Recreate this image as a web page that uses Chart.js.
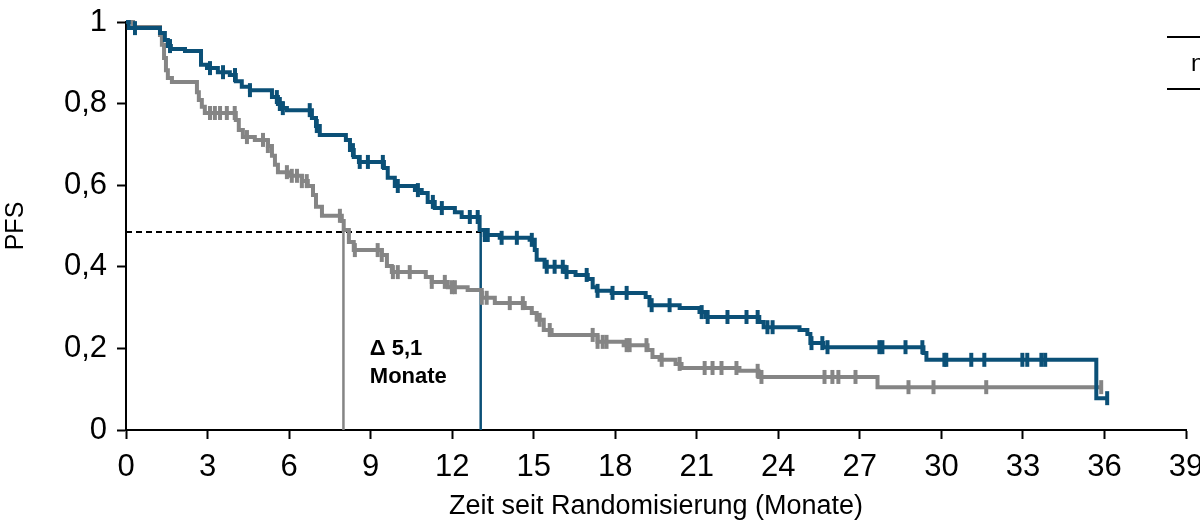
<!DOCTYPE html>
<html>
<head>
<meta charset="utf-8">
<script src="https://cdn.jsdelivr.net/npm/chart.js@4.4.1/dist/chart.umd.min.js"></script>
<style>
  html, body { margin: 0; padding: 0; background: #fff; }
  #wrap { width: 1200px; height: 523px; position: relative; }
</style>
</head>
<body>
<div id="wrap"><canvas id="pfsChart"></canvas></div>
<script>
// Kaplan-Meier steps (Monate, PFS)
const blueTimes = [0, 0.1, 1.25, 1.43, 1.54, 1.65, 2.17, 2.76, 2.98, 3.38, 3.82, 4.04, 4.26, 4.56, 5.37, 5.59, 5.77, 5.92, 6.84, 6.99, 7.13, 8.09, 8.24, 8.38, 8.57, 9.49, 9.63, 9.89, 10.63, 10.88, 11.1, 11.36, 12.1, 12.35, 13.01, 13.2, 13.75, 14.85, 15.04, 15.11, 15.4, 16.14, 16.54, 16.99, 17.17, 17.32, 17.87, 19.12, 19.26, 20.37, 21.1, 21.32, 23.3, 23.46, 24.78, 25.07, 25.18, 25.66, 29.34, 29.45, 35.7, 36.1];
const blueSurv = [1, 0.985, 0.973, 0.956, 0.941, 0.934, 0.929, 0.895, 0.887, 0.877, 0.870, 0.855, 0.841, 0.833, 0.816, 0.799, 0.789, 0.784, 0.765, 0.745, 0.723, 0.711, 0.686, 0.669, 0.657, 0.642, 0.618, 0.598, 0.588, 0.581, 0.559, 0.544, 0.534, 0.522, 0.490, 0.478, 0.471, 0.466, 0.441, 0.417, 0.400, 0.387, 0.380, 0.370, 0.350, 0.341, 0.336, 0.326, 0.306, 0.299, 0.289, 0.277, 0.265, 0.252, 0.245, 0.235, 0.213, 0.203, 0.189, 0.172, 0.078, 0.078];
const blueCensored = [0.33, 1.62, 3.09, 3.57, 4.01, 4.56, 5.55, 5.66, 5.77, 6.76, 7.02, 8.35, 8.6, 8.9, 9.45, 10.0, 10.74, 11.29, 11.62, 12.65, 12.94, 13.2, 13.31, 13.82, 14.38, 14.93, 15.48, 15.77, 16.07, 16.21, 16.95, 17.35, 17.9, 18.42, 19.34, 20.0, 21.18, 21.4, 22.13, 22.83, 23.24, 23.6, 23.79, 25.22, 25.62, 25.81, 27.72, 27.83, 28.68, 29.3, 30.11, 30.18, 31.1, 31.58, 32.98, 33.16, 33.68, 33.82, 36.1];

const grayTimes = [0, 0.26, 1.25, 1.32, 1.4, 1.47, 1.54, 1.69, 2.61, 2.68, 2.79, 2.9, 4.04, 4.15, 4.3, 4.74, 5.22, 5.37, 5.48, 5.59, 5.96, 6.47, 6.69, 6.88, 6.99, 7.21, 7.94, 8.01, 8.2, 8.38, 9.41, 9.6, 9.78, 11.03, 11.25, 11.84, 12.57, 13.09, 13.57, 14.67, 14.93, 15.11, 15.37, 15.66, 17.35, 18.31, 19.19, 19.37, 19.63, 20.22, 20.44, 22.57, 23.27, 27.65, 35.9];
const graySurv = [1, 0.988, 0.968, 0.944, 0.912, 0.882, 0.863, 0.853, 0.828, 0.809, 0.792, 0.777, 0.760, 0.735, 0.718, 0.711, 0.696, 0.672, 0.650, 0.632, 0.623, 0.610, 0.598, 0.576, 0.547, 0.525, 0.512, 0.490, 0.461, 0.441, 0.429, 0.402, 0.387, 0.375, 0.363, 0.350, 0.343, 0.324, 0.311, 0.299, 0.287, 0.270, 0.245, 0.233, 0.216, 0.208, 0.196, 0.179, 0.172, 0.162, 0.152, 0.145, 0.130, 0.105, 0.105];
const grayCensored = [3.09, 3.27, 3.46, 3.71, 4.0, 4.45, 5.04, 5.22, 5.92, 6.1, 6.29, 6.47, 6.65, 7.87, 8.42, 9.26, 9.41, 9.82, 10.0, 10.44, 11.25, 11.73, 11.99, 12.1, 13.09, 13.27, 14.12, 14.6, 15.22, 15.59, 17.17, 17.35, 17.54, 17.68, 18.42, 18.53, 19.15, 19.71, 20.37, 21.29, 21.58, 21.91, 22.46, 23.24, 23.38, 25.7, 25.99, 26.21, 26.84, 28.79, 29.71, 31.65, 35.88];

const medianLevel = 0.485;
const grayMedian = 8.0;
const blueMedian = 13.05;

const xTicks = [0, 3, 6, 9, 12, 15, 18, 21, 24, 27, 30, 33, 36, 39];
const yTicks = [0, 0.2, 0.4, 0.6, 0.8, 1];

const BLUE = "#0b5077";
const GRAY = "#858585";
const FONT = "Arial, 'Liberation Sans', sans-serif";

function steps(times, surv) {
  return times.map((t, i) => ({ x: t, y: surv[i] }));
}

// value of the step curve at time t
function survAt(times, surv, t) {
  let s = surv[0];
  for (let i = 0; i < times.length; i++) {
    if (times[i] <= t) s = surv[i];
  }
  return s;
}

function censorPoints(cens, times, surv) {
  return cens.map((t) => ({ x: t, y: survAt(times, surv, t) }));
}

const annotations = {
  id: "annotations",
  afterDatasetsDraw(chart) {
    const ctx = chart.ctx;
    const xs = chart.scales.x;
    const ys = chart.scales.y;
    ctx.save();
    ctx.fillStyle = "#000";
    ctx.font = "bold 22px " + FONT;
    ctx.textAlign = "left";
    ctx.textBaseline = "middle";
    const tx = xs.getPixelForValue(8.97);
    ctx.fillText("\u0394 5,1", tx, ys.getPixelForValue(0.199));
    ctx.fillText("Monate", tx, ys.getPixelForValue(0.13));

    // cut-off table at the top right
    ctx.strokeStyle = "#000";
    ctx.lineWidth = 2;
    ctx.beginPath();
    ctx.moveTo(1167, 37);
    ctx.lineTo(1200, 37);
    ctx.moveTo(1167, 89);
    ctx.lineTo(1200, 89);
    ctx.stroke();
    ctx.font = "24px " + FONT;
    ctx.fillText("n", 1191, 64);
    ctx.restore();
  },
};

const ctx = document.getElementById("pfsChart").getContext("2d");
new Chart(ctx, {
  type: "line",
  data: {
    datasets: [
      {
        label: "blau",
        data: steps(blueTimes, blueSurv),
        stepped: true,
        borderColor: BLUE,
        borderWidth: 4,
        pointRadius: 0,
        clip: false,
        order: 1,
      },
      {
        label: "grau",
        data: steps(grayTimes, graySurv),
        stepped: true,
        borderColor: GRAY,
        borderWidth: 4,
        pointRadius: 0,
        clip: false,
        order: 2,
      },
      {
        label: "blau zensiert",
        data: censorPoints(blueCensored, blueTimes, blueSurv),
        showLine: false,
        pointStyle: "line",
        rotation: 90,
        pointRadius: 7,
        pointBorderWidth: 4,
        borderColor: BLUE,
        backgroundColor: BLUE,
        clip: false,
        order: 1,
      },
      {
        label: "grau zensiert",
        data: censorPoints(grayCensored, grayTimes, graySurv),
        showLine: false,
        pointStyle: "line",
        rotation: 90,
        pointRadius: 7,
        pointBorderWidth: 4,
        borderColor: GRAY,
        backgroundColor: GRAY,
        clip: false,
        order: 2,
      },
      {
        label: "median",
        data: [
          { x: 0, y: medianLevel },
          { x: blueMedian, y: medianLevel },
        ],
        borderColor: "#000",
        borderWidth: 2,
        borderDash: [6, 4],
        pointRadius: 0,
        order: 3,
      },
      {
        label: "median grau",
        data: [
          { x: grayMedian, y: medianLevel },
          { x: grayMedian, y: 0 },
        ],
        borderColor: GRAY,
        borderWidth: 2.5,
        pointRadius: 0,
        order: 3,
      },
      {
        label: "median blau",
        data: [
          { x: blueMedian, y: medianLevel },
          { x: blueMedian, y: 0 },
        ],
        borderColor: BLUE,
        borderWidth: 2.5,
        pointRadius: 0,
        order: 3,
      },
    ],
  },
  options: {
    responsive: true,
    maintainAspectRatio: false,
    animation: false,
    events: [],
    layout: { padding: { top: 22, right: 14, left: 0, bottom: 0 } },
    plugins: {
      legend: { display: false },
      tooltip: { enabled: false },
    },
    scales: {
      x: {
        type: "linear",
        min: 0,
        max: 39,
        afterBuildTicks: (scale) => {
          scale.ticks = xTicks.map((v) => ({ value: v }));
        },
        afterFit: (scale) => {
          scale.height = 93;
          scale.paddingLeft = 0;
          scale.paddingRight = 0;
        },
        ticks: {
          color: "#000",
          font: { family: FONT, size: 31 },
          padding: 10,
          maxRotation: 0,
          autoSkip: false,
        },
        grid: {
          drawOnChartArea: false,
          drawTicks: true,
          tickLength: 9,
          tickWidth: 2,
          color: "#000",
        },
        border: { color: "#000", width: 2 },
        title: {
          display: true,
          text: "Zeit seit Randomisierung (Monate)",
          color: "#000",
          font: { family: FONT, size: 27 },
          padding: { top: 0, bottom: 0 },
        },
      },
      y: {
        min: 0,
        max: 1,
        afterBuildTicks: (scale) => {
          scale.ticks = yTicks.map((v) => ({ value: v }));
        },
        afterFit: (scale) => {
          scale.width = 126;
          scale.paddingTop = 0;
          scale.paddingBottom = 0;
        },
        ticks: {
          color: "#000",
          font: { family: FONT, size: 31 },
          padding: 10,
          callback: (v) => String(Number(v.toFixed(1))).replace(".", ","),
        },
        grid: {
          drawOnChartArea: false,
          drawTicks: true,
          tickLength: 9,
          tickWidth: 2,
          color: "#000",
        },
        border: { color: "#000", width: 2 },
        title: {
          display: true,
          text: "PFS",
          color: "#000",
          font: { family: FONT, size: 25 },
          padding: { top: 1, bottom: 0 },
        },
      },
    },
  },
  plugins: [annotations],
});
</script>
</body>
</html>
